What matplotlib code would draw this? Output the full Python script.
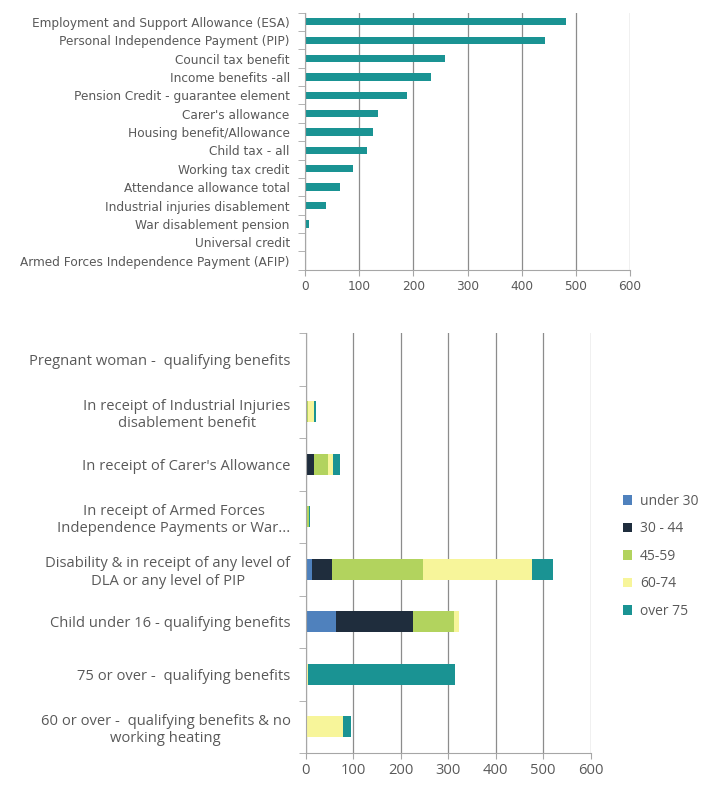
import matplotlib
matplotlib.use("Agg")
import matplotlib.pyplot as plt
from matplotlib.patches import Patch
import numpy as np

plt.rcParams["font.family"] = ["Open Sans", "DejaVu Sans"]

# top chart: count per benefit
benefits = [
    "Employment and Support Allowance (ESA)",
    "Personal Independence Payment (PIP)",
    "Council tax benefit",
    "Income benefits -all",
    "Pension Credit - guarantee element",
    "Carer's allowance",
    "Housing benefit/Allowance",
    "Child tax - all",
    "Working tax credit",
    "Attendance allowance total",
    "Industrial injuries disablement",
    "War disablement pension",
    "Universal credit",
    "Armed Forces Independence Payment (AFIP)",
]
benefit_counts = [481, 443, 258, 232, 189, 135, 126, 115, 89, 64, 39, 7, 1, 0]

# bottom chart: qualifying groups by age band
groups = [
    "Pregnant woman -  qualifying benefits",
    "In receipt of Industrial Injuries\ndisablement benefit",
    "In receipt of Carer's Allowance",
    "In receipt of Armed Forces\nIndependence Payments or War...",
    "Disability & in receipt of any level of\nDLA or any level of PIP",
    "Child under 16 - qualifying benefits",
    "75 or over -  qualifying benefits",
    "60 or over -  qualifying benefits & no\nworking heating",
]
age_bands = ["under 30", "30 - 44", "45-59", "60-74", "over 75"]
under_30 = [0, 0, 0, 0, 13, 63, 0, 0]
age_30_44 = [0, 0, 17, 0, 43, 162, 0, 0]
age_45_59 = [0, 4, 30, 7, 191, 88, 0, 0]
age_60_74 = [0, 13, 10, 0, 230, 10, 4, 78]
over_75 = [0, 4, 15, 2, 44, 0, 311, 18]

band_colors = ["#4f81bd", "#1f2d3d", "#b2d35e", "#f7f59a", "#1a9393"]
teal = "#1a9393"
text_c = "#595959"
grid_c = "#8c8c8c"

fig = plt.figure(figsize=(7.16, 7.89), dpi=100)


def style_axis(ax, n, label_size, pad):
    ax.set_xlim(0, 600)
    ax.set_xticks(range(0, 601, 100))
    ax.set_ylim(n - 0.5, -0.5)
    ax.set_yticks(range(n))
    ax.set_yticks(np.arange(-0.5, n, 1.0), minor=True)
    ax.tick_params(axis="y", which="major", length=0, pad=pad, colors=text_c,
                   labelsize=label_size)
    ax.tick_params(axis="y", which="minor", length=5, color="#a6a6a6")
    ax.tick_params(axis="x", length=4, color="#a6a6a6", colors=text_c,
                   labelsize=label_size)
    ax.xaxis.grid(True, color=grid_c, lw=0.9)
    ax.set_axisbelow(True)
    for s in ["top", "right"]:
        ax.spines[s].set_visible(False)
    for s in ["left", "bottom"]:
        ax.spines[s].set_color("#a6a6a6")


# --- top chart ---
ax1 = fig.add_axes([0.426, 0.658, 0.454, 0.326])
y1 = np.arange(len(benefits))
ax1.barh(y1, benefit_counts, height=0.4, color=teal)
style_axis(ax1, len(benefits), 8.7, 11)
ax1.set_yticklabels(benefits, family="DejaVu Sans")
for lbl in ax1.get_xticklabels():
    lbl.set_family("DejaVu Sans")

# --- bottom chart ---
ax2 = fig.add_axes([0.427, 0.0456, 0.398, 0.532])
y2 = np.arange(len(groups))
left = np.zeros(len(groups))
for band, vals, col in zip(age_bands, [under_30, age_30_44, age_45_59, age_60_74, over_75], band_colors):
    ax2.barh(y2, vals, left=left, height=0.4, color=col, label=band)
    left += np.array(vals)
style_axis(ax2, len(groups), 10.6, 11)
ax2.set_yticklabels(groups, multialignment="center")

handles = [Patch(facecolor=c, edgecolor="none") for c in band_colors]
leg = fig.legend(handles, age_bands, loc="upper left", bbox_to_anchor=(0.862, 0.381),
                 frameon=False, fontsize=10, handlelength=0.7, handleheight=0.7,
                 handletextpad=0.55, labelspacing=0.9, borderaxespad=0)
for t in leg.get_texts():
    t.set_color(text_c)

fig.savefig("out.png", dpi=100)
